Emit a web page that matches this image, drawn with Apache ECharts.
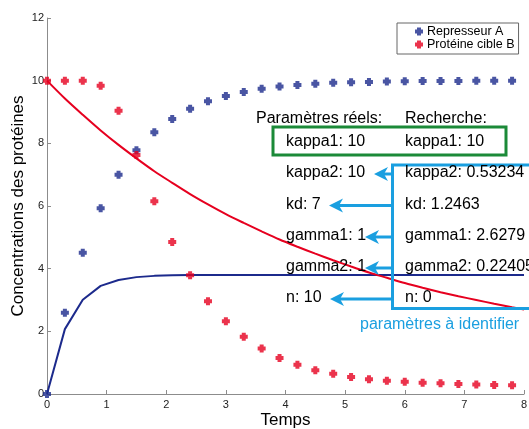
<!DOCTYPE html>
<html>
<head>
<meta charset="utf-8">
<script src="https://cdn.jsdelivr.net/npm/echarts@6/dist/echarts.min.js"></script>
<style>
  html, body { margin: 0; padding: 0; background: #fff; }
  #chart { width: 529px; height: 429px; }
</style>
</head>
<body>
<div id="chart"></div>
<script>
// Sampling times of the measured concentrations
var temps = [0, 0.3, 0.6, 0.9, 1.2, 1.5, 1.8, 2.1, 2.4, 2.7, 3.0, 3.3, 3.6, 3.9,
             4.2, 4.5, 4.8, 5.1, 5.4, 5.7, 6.0, 6.3, 6.6, 6.9, 7.2, 7.5, 7.8];
// Times of the simulated (fitted) curves
var tempsModele = [0, 0.3, 0.6, 0.9, 1.2, 1.5, 1.8, 2.1, 2.4, 2.7, 3.0, 3.3, 3.6, 3.9,
                   4.2, 4.5, 4.8, 5.1, 5.4, 5.7, 6.0, 6.3, 6.6, 6.9, 7.2, 7.5, 7.8, 8.0];

// Measured values
var represseurA = [0, 2.59, 4.51, 5.93, 7.00, 7.78, 8.35, 8.78, 9.10, 9.34, 9.51, 9.64, 9.74, 9.81,
                   9.86, 9.90, 9.93, 9.95, 9.96, 9.97, 9.98, 9.99, 9.99, 9.99, 10.0, 10.0, 10.0];
var proteineB = [10, 10, 10, 9.84, 9.04, 7.63, 6.15, 4.85, 3.79, 2.96, 2.32, 1.83, 1.45, 1.15,
                 0.93, 0.76, 0.65, 0.54, 0.47, 0.42, 0.39, 0.36, 0.34, 0.32, 0.30, 0.29, 0.28];

// Model curves with the estimated parameters
var modeleA = [0, 2.07, 3.01, 3.45, 3.64, 3.73, 3.77, 3.79, 3.80, 3.80, 3.80, 3.80, 3.80, 3.80,
               3.80, 3.80, 3.80, 3.80, 3.80, 3.80, 3.80, 3.80, 3.80, 3.80, 3.80, 3.80, 3.80, 3.80];
var modeleB = [10, 9.43, 8.91, 8.41, 7.95, 7.52, 7.11, 6.74, 6.38, 6.05, 5.74, 5.46, 5.19, 4.93,
               4.70, 4.48, 4.27, 4.07, 3.88, 3.71, 3.54, 3.39, 3.25, 3.12, 3.00, 2.88, 2.77, 2.70];

// Axis ticks
var ticksX = [0, 1, 2, 3, 4, 5, 6, 7, 8];
var ticksY = [0, 2, 4, 6, 8, 10, 12];

// Parameter table
var parametresReels = ['kappa1: 10', 'kappa2: 10', 'kd: 7', 'gamma1: 1', 'gamma2: 1', 'n: 10'];
var parametresRecherche = ['kappa1: 10', 'kappa2: 0.53234', 'kd: 1.2463', 'gamma1: 2.6279', 'gamma2: 0.22405', 'n: 0'];

var BLEU = '#1c2a8c';
var ROUGE = '#e6001f';
var CYAN = '#1a9fe0';
var VERT = '#1b8a38';
var FONT = '"Liberation Sans", Arial, Helvetica, sans-serif';
var PLUS = 'path://M2,0H6V2H8V6H6V8H2V6H0V2H2Z';

function paires(xs, ys) {
  return ys.map(function (v, i) { return [xs[i], v]; });
}

var chart = echarts.init(document.getElementById('chart'), null, { renderer: 'canvas' });

// Annotation layout
var ligneY = [142, 173, 204.5, 236, 267, 298];
var xGauche = 286, xDroite = 405, xCrochet = 392.5;
var pointesFleches = [null, 374, 329, 365, 365, 330];

var graphics = [];
graphics.push({ type: 'text', left: 256, top: 110.5, z: 10,
  style: { text: 'Paramètres réels:', font: '16px ' + FONT, fill: '#000', textVerticalAlign: 'middle' } });
graphics.push({ type: 'text', left: xDroite, top: 110.5, z: 10,
  style: { text: 'Recherche:', font: '16px ' + FONT, fill: '#000', textVerticalAlign: 'middle' } });
parametresReels.forEach(function (t, i) {
  graphics.push({ type: 'text', x: xGauche, y: ligneY[i], z: 10,
    style: { text: t, font: '16px ' + FONT, fill: '#000', textVerticalAlign: 'middle' } });
  graphics.push({ type: 'text', x: xDroite, y: ligneY[i], z: 10,
    style: { text: parametresRecherche[i], font: '16px ' + FONT, fill: '#000', textVerticalAlign: 'middle' } });
});
// Green frame around the identical parameter
graphics.push({ type: 'rect', z: 9, shape: { x: 273, y: 127, width: 233, height: 28 },
  style: { fill: 'none', stroke: VERT, lineWidth: 3 } });
// Cyan bracket grouping the parameters to identify
graphics.push({ type: 'polyline', z: 9,
  shape: { points: [[535, 165], [xCrochet, 165], [xCrochet, 308.5], [535, 308.5]] },
  style: { fill: 'none', stroke: CYAN, lineWidth: 3 } });
pointesFleches.forEach(function (px, i) {
  if (px === null) return;
  var y = ligneY[i] + 1;
  graphics.push({ type: 'line', z: 9, shape: { x1: px + 9, y1: y, x2: xCrochet, y2: y },
    style: { stroke: CYAN, lineWidth: 3 } });
  graphics.push({ type: 'polygon', z: 9,
    shape: { points: [[px, y], [px + 14, y - 7], [px + 10, y], [px + 14, y + 7]] },
    style: { fill: CYAN } });
});
graphics.push({ type: 'text', x: 360, y: 324.5, z: 10,
  style: { text: 'paramètres à identifier', font: '16px ' + FONT, fill: CYAN, textVerticalAlign: 'middle' } });

var axisCommon = {
  axisLine: { show: true, lineStyle: { color: '#8c8c8c', width: 1 } },
  axisTick: { show: true, inside: true, length: 4, lineStyle: { color: '#8c8c8c' } },
  splitLine: { show: false },
  axisLabel: { color: '#222', fontSize: 11, fontFamily: FONT },
  nameMoveOverlap: false,
  nameTextStyle: { color: '#000', fontSize: 17, fontFamily: FONT }
};

chart.setOption({
  animation: false,
  backgroundColor: '#fff',
  grid: { left: 47, right: 5, top: 18, bottom: 35, containLabel: false, outerBoundsMode: 'none' },
  xAxis: Object.assign({}, axisCommon, {
    type: 'value', min: ticksX[0], max: ticksX[ticksX.length - 1], interval: 1,
    name: 'Temps', nameLocation: 'middle', nameGap: 18,
    axisLabel: Object.assign({}, axisCommon.axisLabel, { margin: 5 })
  }),
  yAxis: Object.assign({}, axisCommon, {
    type: 'value', min: ticksY[0], max: ticksY[ticksY.length - 1], interval: 2,
    name: 'Concentrations des protéines', nameLocation: 'middle', nameGap: 20,
    axisLabel: Object.assign({}, axisCommon.axisLabel, { margin: 3 })
  }),
  legend: {
    data: ['Represseur A', 'Protéine cible B'],
    orient: 'vertical', left: 397, top: 23,
    padding: [2, 4, 3, 18], itemGap: 0,
    itemWidth: 8, itemHeight: 8,
    borderColor: '#666', borderWidth: 1, backgroundColor: '#fff',
    textStyle: { fontSize: 12.5, fontFamily: FONT, color: '#000', lineHeight: 13, padding: [0, 0, 0, -1] }
  },
  graphic: graphics,
  series: [
    { name: 'Modèle A', type: 'line', data: paires(tempsModele, modeleA), showSymbol: false,
      lineStyle: { color: BLEU, width: 2 }, itemStyle: { color: BLEU }, z: 2 },
    { name: 'Modèle B', type: 'line', data: paires(tempsModele, modeleB), showSymbol: false, smooth: 0.3,
      lineStyle: { color: ROUGE, width: 2 }, itemStyle: { color: ROUGE }, z: 2 },
    { name: 'Represseur A', type: 'scatter', data: paires(temps, represseurA),
      symbol: PLUS, symbolSize: 8, itemStyle: { color: BLEU }, z: 3 },
    { name: 'Protéine cible B', type: 'scatter', data: paires(temps, proteineB),
      symbol: PLUS, symbolSize: 8, itemStyle: { color: ROUGE }, z: 3 }
  ]
});
</script>
</body>
</html>
